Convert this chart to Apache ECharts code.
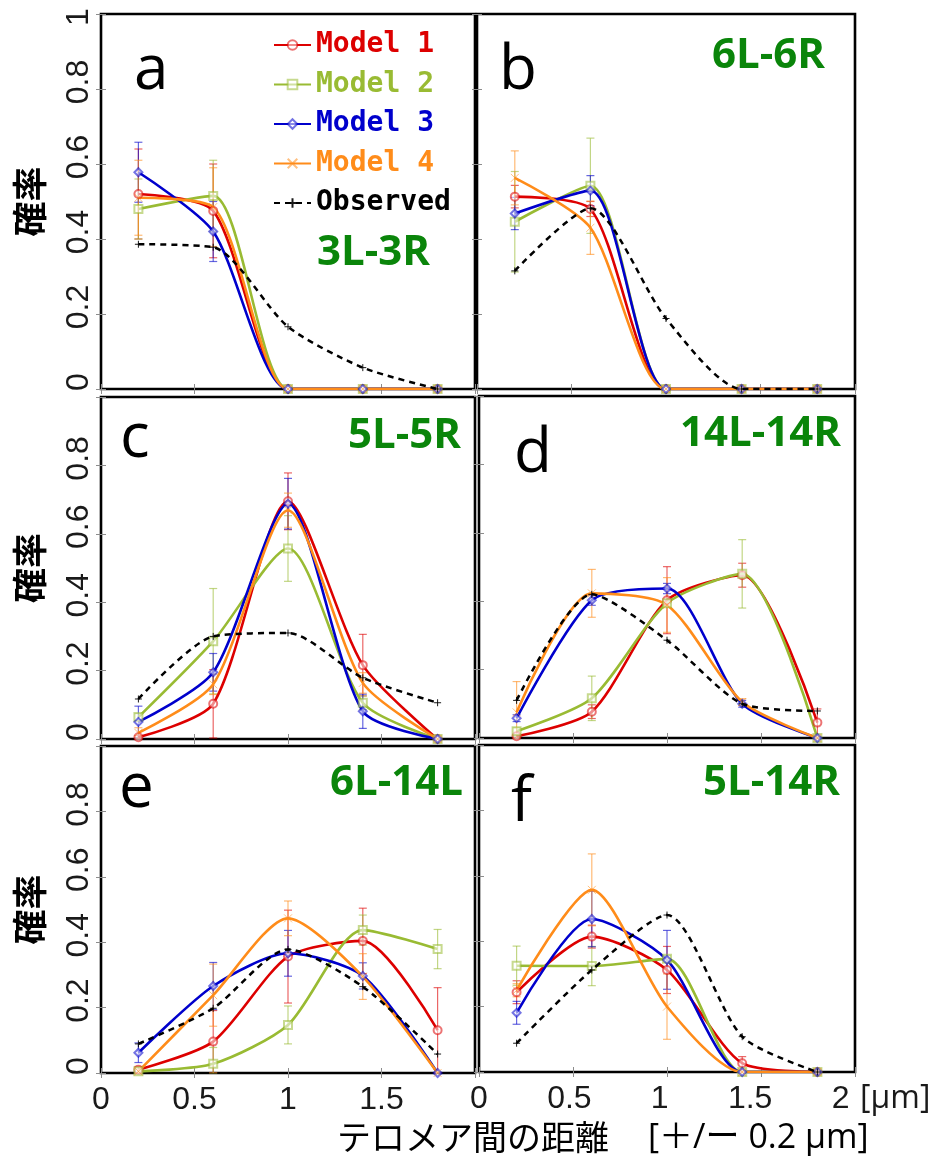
<!DOCTYPE html>
<html><head><meta charset="utf-8">
<script src="https://cdn.jsdelivr.net/npm/echarts@6/dist/echarts.min.js"></script>
<style>html,body{margin:0;padding:0;background:#fff}#chart{width:933px;height:1160px}</style>
</head><body><div id="chart"></div>
<script>
// ---------------- DATA ----------------
const xValues = [0.2, 0.6, 1.0, 1.4, 1.8];
const seriesNames = ['Model 1', 'Model 2', 'Model 3', 'Model 4', 'Observed'];
const panelLetters = ['a', 'b', 'c', 'd', 'e', 'f'];
const panelPairs = ['3L-3R', '6L-6R', '5L-5R', '14L-14R', '6L-14L', '5L-14R'];
const yTickLabels = ['0', '0.2', '0.4', '0.6', '0.8', '1'];
const xTickLabels = ['0', '0.5', '1', '1.5', '2'];
const yAxisTitle = '確率';
const xAxisTitle = 'テロメア間の距離';
const xAxisTitleNote = '[＋/ー 0.2 μm]';
const xUnit = '[μm]';

// panel a (3L-3R)
const aModel1 = [0.52, 0.475, 0, 0, 0];
const aModel2 = [0.48, 0.515, 0, 0, 0];
const aModel3 = [0.578, 0.42, 0, 0, 0];
const aModel4 = [0.51, 0.485, 0, 0, 0];
const aObserved = [0.386, 0.378, 0.166, 0.057, 0];
const aModel1Err = [0.12, 0.125, 0, 0, 0];
const aModel2Err = [0.08, 0.095, 0, 0, 0];
const aModel3Err = [0.08, 0.08, 0, 0, 0];
const aModel4Err = [0.1, 0.105, 0, 0, 0];
// panel b (6L-6R)
const bModel1 = [0.513, 0.48, 0, 0, 0];
const bModel2 = [0.446, 0.542, 0, 0, 0];
const bModel3 = [0.468, 0.529, 0, 0, 0];
const bModel4 = [0.563, 0.43, 0, 0, 0];
const bObserved = [0.315, 0.482, 0.188, 0, 0];
const bModel1Err = [0.03, 0.02, 0, 0, 0];
const bModel2Err = [0.134, 0.127, 0, 0, 0];
const bModel3Err = [0.043, 0.04, 0, 0, 0];
const bModel4Err = [0.072, 0.071, 0, 0, 0];
// panel c (5L-5R)
const cModel1 = [0.005, 0.103, 0.695, 0.216, 0];
const cModel2 = [0.064, 0.286, 0.557, 0.106, 0];
const cModel3 = [0.05, 0.195, 0.688, 0.081, 0];
const cModel4 = [0.018, 0.16, 0.669, 0.164, 0];
const cObserved = [0.117, 0.30, 0.31, 0.179, 0.106];
const cModel1Err = [0.005, 0.10, 0.083, 0.09, 0];
const cModel2Err = [0.01, 0.154, 0.096, 0.02, 0];
const cModel3Err = [0.046, 0.055, 0.074, 0.05, 0];
const cModel4Err = [0.015, 0.03, 0.05, 0.03, 0];
// panel d (14L-14R)
const dModel1 = [0.005, 0.077, 0.403, 0.476, 0.045];
const dModel2 = [0.02, 0.116, 0.394, 0.48, 0];
const dModel3 = [0.058, 0.403, 0.437, 0.10, 0];
const dModel4 = [0.075, 0.423, 0.389, 0.105, 0];
const dObserved = [0.11, 0.42, 0.286, 0.10, 0.079];
const dModel1Err = [0.005, 0.02, 0.098, 0.035, 0.04];
const dModel2Err = [0.01, 0.065, 0.01, 0.1, 0];
const dModel3Err = [0.01, 0.015, 0.015, 0.01, 0];
const dModel4Err = [0.09, 0.07, 0.08, 0.01, 0];
// panel e (6L-14L)
const eModel1 = [0.01, 0.096, 0.356, 0.404, 0.131];
const eModel2 = [0.005, 0.028, 0.147, 0.437, 0.379];
const eModel3 = [0.062, 0.266, 0.366, 0.297, 0];
const eModel4 = [0.005, 0.238, 0.473, 0.295, 0];
const eObserved = [0.089, 0.198, 0.378, 0.264, 0.058];
const eModel1Err = [0.01, 0.095, 0.142, 0.1, 0.13];
const eModel2Err = [0.005, 0.05, 0.058, 0.046, 0.06];
const eModel3Err = [0.03, 0.072, 0.07, 0.04, 0];
const eModel4Err = [0.01, 0.095, 0.053, 0.07, 0];
// panel f (5L-14R)
const fModel1 = [0.244, 0.414, 0.312, 0.027, 0];
const fModel2 = [0.325, 0.324, 0.346, 0, 0];
const fModel3 = [0.181, 0.468, 0.343, 0, 0];
const fModel4 = [0.25, 0.557, 0.20, 0, 0];
const fObserved = [0.088, 0.312, 0.48, 0.108, 0];
const fModel1Err = [0.035, 0.035, 0.072, 0.02, 0];
const fModel2Err = [0.06, 0.06, 0.01, 0, 0];
const fModel3Err = [0.035, 0.085, 0.09, 0, 0];
const fModel4Err = [0.02, 0.11, 0.1, 0, 0];

const panelValues = [
  [aModel1, aModel2, aModel3, aModel4, aObserved],
  [bModel1, bModel2, bModel3, bModel4, bObserved],
  [cModel1, cModel2, cModel3, cModel4, cObserved],
  [dModel1, dModel2, dModel3, dModel4, dObserved],
  [eModel1, eModel2, eModel3, eModel4, eObserved],
  [fModel1, fModel2, fModel3, fModel4, fObserved]
];
const panelErrors = [
  [aModel1Err, aModel2Err, aModel3Err, aModel4Err],
  [bModel1Err, bModel2Err, bModel3Err, bModel4Err],
  [cModel1Err, cModel2Err, cModel3Err, cModel4Err],
  [dModel1Err, dModel2Err, dModel3Err, dModel4Err],
  [eModel1Err, eModel2Err, eModel3Err, eModel4Err],
  [fModel1Err, fModel2Err, fModel3Err, fModel4Err]
];

// ---------------- LAYOUT / STYLE ----------------
const gridBoxes = [
  {left: 101, top: 14, width: 374, height: 375},
  {left: 477, top: 14, width: 378, height: 375},
  {left: 101, top: 397, width: 374, height: 342},
  {left: 479, top: 396, width: 376, height: 342},
  {left: 101, top: 746, width: 374, height: 327},
  {left: 479, top: 745, width: 376, height: 327}
];
const letterTop = [[134, 40], [499, 40], [120, 408], [514, 423], [119, 758], [511, 772]];
const pairTop = [[317, 232], [712, 35], [348, 415], [680, 413], [330, 762], [703, 762]];
const colors = ['#dd0000', '#99bb33', '#0000cc', '#ff8c1a', '#000000'];
const symbols = ['emptyCircle', 'emptyRect', 'emptyDiamond',
  'path://M0,0L10,10M10,0L0,10', 'path://M5,0L5,10M0,5L10,5'];
const labelColor = '#1a1a1a';

const grid = [], xAxis = [], yAxis = [], series = [], graphic = [];

function yLabel(v) {
  const s = yTickLabels[Math.round(v / 0.2)] || '';
  return v >= 1 ? '{top|' + s + '}' : '{n|' + s + '}';
}
function xLabel(v) { return xTickLabels[Math.round(v / 0.5)] || ''; }
const yRich = {
  n: {fontSize: 32, fontFamily: 'Liberation Sans', color: labelColor, padding: [0, 0, 0, 14]},
  top: {fontSize: 32, fontFamily: 'Liberation Sans', color: labelColor, padding: [0, 6, 0, 0]}
};

gridBoxes.forEach((box, p) => {
  grid.push(Object.assign({show: true, borderColor: '#000', borderWidth: 2.6,
    backgroundColor: 'transparent', outerBoundsMode: 'none'}, box));
  const isLeft = p % 2 === 0;
  const isBottom = p >= 4;
  const tick = {show: true, inside: true, length: 5, lineStyle: {color: '#8c8c8c', width: 1}};
  xAxis.push({
    type: 'value', gridIndex: p, min: 0, max: 2, interval: 0.5, position: 'bottom',
    axisLine: {show: false}, splitLine: {show: false}, axisTick: tick,
    axisLabel: {
      show: isBottom && p === 4, margin: 11, fontSize: 32, fontFamily: 'Liberation Sans', color: labelColor,
      formatter: v => (v >= 2 ? '' : xLabel(v))
    }
  });
  xAxis.push({
    type: 'value', gridIndex: p, min: 0, max: 2, interval: 0.5, position: 'top',
    axisLine: {show: false}, splitLine: {show: false}, axisTick: tick, axisLabel: {show: false}
  });
  yAxis.push({
    type: 'value', gridIndex: p, min: 0, max: 1, interval: 0.2, position: 'left',
    axisLine: {show: false}, splitLine: {show: false}, axisTick: tick,
    name: isLeft ? yAxisTitle : '', nameLocation: 'middle', nameRotate: 90, nameGap: 54,
    nameTextStyle: {fontFamily: 'Noto Sans CJK JP', fontWeight: 'bold', fontSize: 35, color: '#000'},
    axisLabel: {
      show: isLeft, rotate: 90, margin: 6, fontSize: 32, fontFamily: 'Liberation Sans', color: labelColor,
      rich: yRich,
      formatter: v => (p !== 0 && v >= 1 ? '' : yLabel(v))
    }
  });
  yAxis.push({
    type: 'value', gridIndex: p, min: 0, max: 1, interval: 0.2, position: 'right',
    axisLine: {show: false}, splitLine: {show: false}, axisTick: tick, axisLabel: {show: false}
  });

  panelValues[p].forEach((vals, s) => {
    const isObs = s === 4;
    series.push({
      type: 'line', name: seriesNames[s], xAxisIndex: p * 2, yAxisIndex: p * 2,
      data: xValues.map((x, i) => [x, vals[i]]),
      smooth: 0.25, symbol: symbols[s], symbolSize: isObs ? 7 : 8, showSymbol: true,
      color: colors[s],
      lineStyle: {color: colors[s], width: isObs ? 2.5 : 2.6, type: isObs ? [6, 5] : 'solid'},
      itemStyle: {color: colors[s], borderColor: colors[s], borderWidth: 1, opacity: isObs ? 0.9 : 0.55},
      z: isObs ? 4 : 3, emphasis: {disabled: true}, animation: false
    });
  });
  panelErrors[p].forEach((errs, s) => {
    const vals = panelValues[p][s];
    const col = colors[s];
    series.push({
      type: 'custom', xAxisIndex: p * 2, yAxisIndex: p * 2, silent: true, z: 2, animation: false,
      data: xValues.map((x, i) => [x, Math.max(0, vals[i] - errs[i]), vals[i] + errs[i], errs[i]]),
      renderItem: (params, api) => {
        if (api.value(3) <= 0.0001) return null;
        const lo = api.coord([api.value(0), api.value(1)]);
        const hi = api.coord([api.value(0), api.value(2)]);
        const w = 4;
        const st = {stroke: col, lineWidth: 1.2, opacity: 0.6};
        return {type: 'group', children: [
          {type: 'line', shape: {x1: lo[0], y1: lo[1], x2: hi[0], y2: hi[1]}, style: st},
          {type: 'line', shape: {x1: lo[0] - w, y1: lo[1], x2: lo[0] + w, y2: lo[1]}, style: st},
          {type: 'line', shape: {x1: hi[0] - w, y1: hi[1], x2: hi[0] + w, y2: hi[1]}, style: st}
        ]};
      }
    });
  });

  graphic.push({type: 'text', left: letterTop[p][0], top: letterTop[p][1],
    style: {text: panelLetters[p], font: '62px "Open Sans"', fill: '#000'}});
  graphic.push({type: 'text', left: pairTop[p][0], top: pairTop[p][1],
    style: {text: panelPairs[p], font: 'bold 42px "Open Sans"', fill: '#0a850a'}});
});

// label-only axis for the bottom-right panel (its tick labels sit on a slightly compressed scale)
xAxis.push({
  type: 'value', gridIndex: 5, min: 0, max: 2.08, interval: 0.5, position: 'bottom',
  axisLine: {show: false}, splitLine: {show: false}, axisTick: {show: false},
  axisLabel: {show: true, margin: 11, fontSize: 32, fontFamily: 'Liberation Sans', color: labelColor,
    formatter: v => (v > 2.001 ? '' : xLabel(v))}
});

graphic.push({type: 'text', left: 860, top: 1083, style: {text: xUnit, font: '32px "Open Sans"', fill: labelColor}});
graphic.push({type: 'text', left: 337, top: 1120, style: {text: xAxisTitle, font: '34px "Noto Sans CJK JP"', fill: '#000'}});
graphic.push({type: 'text', left: 648, top: 1121, style: {text: xAxisTitleNote, font: '34px "Open Sans", "Noto Sans CJK JP"', fill: '#000'}});

const option = {
  backgroundColor: '#fff',
  animation: false,
  grid, xAxis, yAxis, series, graphic,
  legend: {
    orient: 'vertical', left: 273, top: 30, padding: 0, itemGap: 9.5,
    itemWidth: 37, itemHeight: 12, selectedMode: false,
    textStyle: {fontFamily: 'DejaVu Sans Mono', fontWeight: 'bold', fontSize: 28, lineHeight: 30},
    data: seriesNames.map((n, i) => ({name: n, textStyle: {color: colors[i]}}))
  }
};
const chart = echarts.init(document.getElementById('chart'));
chart.setOption(option);
</script></body></html>
